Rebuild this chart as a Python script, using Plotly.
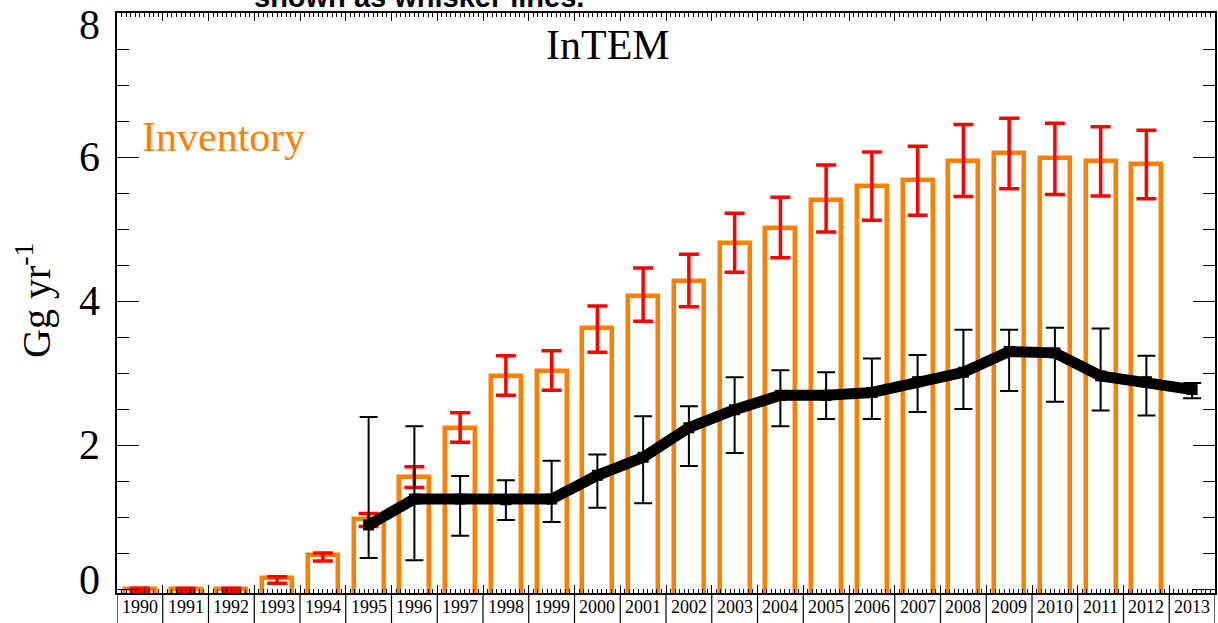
import plotly.graph_objects as go

# ---------------- data ----------------
inv_years = list(range(1990, 2013))
inv_values = [0.0, 0.0, 0.0, 0.15, 0.47, 0.97, 1.56, 2.23, 2.96, 3.03, 3.63, 4.07,
              4.28, 4.81, 5.01, 5.40, 5.60, 5.68, 5.95, 6.05, 5.99, 5.95, 5.90]
inv_upper = [0.01, 0.01, 0.01, 0.17, 0.50, 1.05, 1.70, 2.45, 3.24, 3.31, 3.93, 4.46,
             4.65, 5.22, 5.44, 5.89, 6.07, 6.15, 6.45, 6.54, 6.47, 6.42, 6.37]
inv_lower = [-0.03, -0.03, -0.03, 0.08, 0.39, 0.87, 1.41, 2.04, 2.69, 2.76, 3.29, 3.72,
             3.92, 4.40, 4.60, 4.96, 5.12, 5.19, 5.45, 5.56, 5.48, 5.46, 5.42]

intem_years = list(range(1995, 2014))
intem_values = [0.89, 1.25, 1.25, 1.24, 1.25, 1.58, 1.83, 2.24, 2.49, 2.69, 2.69, 2.73,
                2.88, 3.01, 3.30, 3.28, 2.96, 2.88, 2.77]
intem_upper = [2.39, 2.26, 1.57, 1.51, 1.78, 1.87, 2.40, 2.54, 2.94, 3.04, 3.01, 3.20,
               3.25, 3.60, 3.60, 3.63, 3.62, 3.24, 2.86]
intem_lower = [0.43, 0.40, 0.74, 0.96, 0.93, 1.13, 1.19, 1.71, 1.89, 2.26, 2.36, 2.36,
               2.46, 2.50, 2.75, 2.60, 2.48, 2.41, 2.65]

year_labels = [str(y) for y in range(1990, 2014)]
y_tick_values = [0, 2, 4, 6, 8]
y_tick_labels = ["0", "2", "4", "6", "8"]

# ---------------- styling ----------------
ORANGE = "#FF8000"
RED = "#FF0000"
BASE = -0.3
SERIF = "Liberation Serif"

fig = go.Figure()

fig.add_trace(go.Bar(
    x=inv_years,
    y=[v - BASE for v in inv_values],
    base=BASE,
    width=0.66,
    marker=dict(color="rgba(0,0,0,0)", line=dict(color=ORANGE, width=4.5)),
    error_y=dict(type="data", symmetric=False,
                 array=[u - v for u, v in zip(inv_upper, inv_values)],
                 arrayminus=[v - l for v, l in zip(inv_values, inv_lower)],
                 color=RED, thickness=3.5, width=10),
    showlegend=False,
))

fig.add_trace(go.Scatter(
    x=intem_years, y=intem_values, mode="lines+markers",
    line=dict(color="black", width=11),
    marker=dict(symbol="square", size=11, color="black"),
    error_y=dict(type="data", symmetric=False,
                 array=[u - v for u, v in zip(intem_upper, intem_values)],
                 arrayminus=[v - l for v, l in zip(intem_values, intem_lower)],
                 color="black", thickness=2, width=9),
    showlegend=False,
))

L, R, T, B = 117, 1, 13, 30
PW = 1218 - L - R
PH = 623 - T - B

fig.update_layout(
    width=1218, height=623,
    margin=dict(l=L, r=R, t=T, b=B, pad=0),
    paper_bgcolor="white", plot_bgcolor="white",
    bargap=0,
    font=dict(family=SERIF, color="black"),
    xaxis=dict(range=[1989.5, 2013.5], showgrid=False, zeroline=False,
               showline=True, linecolor="black", linewidth=1.5, mirror="ticks",
               tickmode="linear", tick0=1989.5, dtick=1,
               ticks="inside", ticklen=8, tickwidth=1.2, tickcolor="black",
               showticklabels=False,
               minor=dict(dtick=0.1, tick0=1989.5, ticks="inside", ticklen=4,
                          tickwidth=1, tickcolor="black", showgrid=False)),
    yaxis=dict(range=[-0.055, 8], showgrid=False, zeroline=False,
               showline=True, linecolor="black", linewidth=1.5, mirror="ticks",
               tickmode="linear", tick0=0, dtick=2,
               ticks="inside", ticklen=22, tickwidth=1.2, tickcolor="black",
               showticklabels=False,
               minor=dict(dtick=0.5, ticks="inside", ticklen=12,
                          tickwidth=1.2, tickcolor="black", showgrid=False)),
)

# year label strip below the axis
shapes = []
for i in range(len(year_labels) + 1):
    xb = 1989.5 + i
    shapes.append(dict(type="line", xref="x", yref="paper", x0=xb, x1=xb,
                       y0=0, y1=-B / PH, line=dict(color="black", width=1.2)))
fig.update_layout(shapes=shapes)

ann = []
for lab in year_labels:
    ann.append(dict(x=int(lab), y=0, xref="x", yref="paper", text=lab,
                    showarrow=False, xanchor="center", yanchor="top", yshift=-2,
                    font=dict(family=SERIF, size=18, color="black")))

# y tick labels (end labels nudged inward as in the original)
yshifts = {0: 9, 8: -12}
for v, lab in zip(y_tick_values, y_tick_labels):
    ann.append(dict(x=0, y=v, xref="paper", yref="y", text=lab, showarrow=False,
                    xanchor="right", yanchor="middle", xshift=-15,
                    yshift=yshifts.get(v, 0),
                    font=dict(family=SERIF, size=42, color="black")))

ann.append(dict(x=0, y=(623 - B - 300) / PH, xref="paper", yref="paper",
                xanchor="center", yanchor="middle",
                xshift=-84, text="Gg yr<sup>-1</sup>", textangle=-90,
                showarrow=False, font=dict(family=SERIF, size=40, color="black")))
ann.append(dict(x=(609 - L) / PW, y=(623 - B - 45) / PH, xref="paper", yref="paper",
                xanchor="center", yanchor="middle",
                text="InTEM", showarrow=False,
                font=dict(family=SERIF, size=42, color="black")))
ann.append(dict(x=(140 - L) / PW, y=(623 - B - 137) / PH, xref="paper", yref="paper",
                xanchor="left", yanchor="middle", text="Inventory", showarrow=False,
                font=dict(family=SERIF, size=42, color=ORANGE)))
ann.append(dict(x=(420 - L) / PW, y=1, xref="paper", yref="paper",
                xanchor="center", yanchor="bottom", yshift=-2,
                text="<b>shown as whisker lines.</b>",
                showarrow=False,
                font=dict(family="Liberation Sans", size=29, color="black")))
fig.update_layout(annotations=ann)

fig.write_html("out.html")
